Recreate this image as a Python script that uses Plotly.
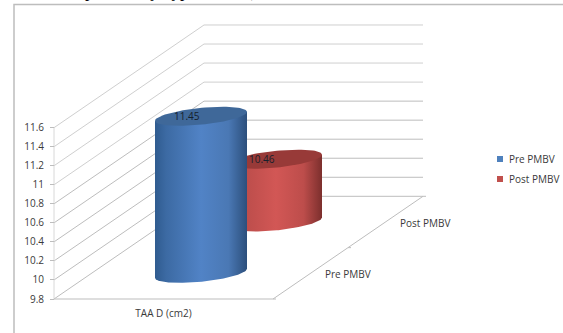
import numpy as np
import plotly.graph_objects as go

# Chart content
category = "TAA D (cm2)"
series_names = ["Pre PMBV", "Post PMBV"]
series_values = [11.45, 10.46]
value_ticks = [9.8, 10, 10.2, 10.4, 10.6, 10.8, 11, 11.2, 11.4, 11.6]
value_tick_labels = ["9.8", "10", "10.2", "10.4", "10.6", "10.8", "11", "11.2", "11.4", "11.6"]
caption_fragment = "pulmonary hypertension),"

WIDTH, HEIGHT = 563, 333

# Axis calibration: one category spans 219 px, one value unit spans about 95 px
ORIGIN_PX = 54
CATEGORY_PX = 219
BASE_VALUE = value_ticks[0]
BASE_PX = 299
VALUE_PX = 95.17

# Oblique depth: the full depth shifts right and upward
DEPTH_DX = 150 / CATEGORY_PX
DEPTH_DV = 102.7 / VALUE_PX

# Cylinder footprint as a tilted ellipse
RADIUS_X = 46 / CATEGORY_PX
TILT_V = 4.5 / VALUE_PX
MINOR_V = 8.4 / VALUE_PX

TEXT = "#3a3a3a"
GRID = "#cfcfcf"
FONT = "Open Sans"

BLUE_SCALE = [[0, "#2f5b8f"], [0.12, "#3c6aa3"], [0.5, "#5183c6"], [0.8, "#4a78b4"], [1, "#2c4f7c"]]
RED_SCALE = [[0, "#a54240"], [0.12, "#b94c4a"], [0.5, "#d25755"], [0.8, "#bd4d4b"], [1, "#7c2f2d"]]
TOP_COLORS = ["#3f6899", "#983a38"]
KEY_COLORS = ["#4f81bd", "#c0504d"]


def project(x, depth, value):
    """Map category position, depth fraction and value onto the oblique plane."""
    return x + depth * DEPTH_DX, value + depth * DEPTH_DV


def ellipse(cx, cv, start, stop, n=90):
    t = np.linspace(start, stop, n)
    return cx + RADIUS_X * np.cos(t), cv + TILT_V * np.cos(t) + MINOR_V * np.sin(t)


fig = go.Figure()


def add_line(xs, vs, color=GRID, width=1):
    fig.add_trace(go.Scatter(x=xs, y=vs, mode="lines", line=dict(color=color, width=width),
                             hoverinfo="skip", showlegend=False))


# Side wall and back wall gridlines
for tick in value_ticks:
    x0, v0 = project(0, 0, tick)
    x1, v1 = project(0, 1, tick)
    x2, v2 = project(1, 1, tick)
    add_line([x0, x1, x2], [v0, v1, v2], color=GRID if tick > 10.9 else "#bdbdbd")

# Left wall edge, floor front edge and floor side edge with its category ticks
top = value_ticks[-1]
add_line([0, 0], [BASE_VALUE, top], color="#d8d8d8")
fx, fv = project(1, 1, BASE_VALUE)
add_line([0, 1, fx], [BASE_VALUE, BASE_VALUE, fv], color="#bdbdbd")
for depth in (0, 0.5, 1):
    tx, tv = project(1, depth, BASE_VALUE)
    add_line([tx, tx + 3 / CATEGORY_PX], [tv, tv], color="#bdbdbd")


def add_cylinder(value, depth, scale, top_color):
    cx, base = project(0.5, depth, BASE_VALUE)
    lift = value - BASE_VALUE
    # Body: front half of the base ellipse closed along the top rim
    ex, ev = ellipse(cx, base, np.pi, 2 * np.pi)
    bx = np.concatenate([ex, [cx + RADIUS_X, cx - RADIUS_X]])
    bv = np.concatenate([ev, [base + lift + TILT_V, base + lift - TILT_V]])
    fig.add_trace(go.Scatter(x=bx, y=bv, mode="lines", fill="toself", line=dict(width=0),
                             fillgradient=dict(type="horizontal", colorscale=scale),
                             hoverinfo="skip", showlegend=False))
    # Top face with the value written on it
    tx, tv = ellipse(cx, base + lift, 0, 2 * np.pi)
    fig.add_trace(go.Scatter(x=tx, y=tv, mode="lines", fill="toself", fillcolor=top_color,
                             line=dict(width=0), hoverinfo="skip", showlegend=False))
    fig.add_annotation(x=cx - 14 / CATEGORY_PX, y=base + lift, text=f"{value:.2f}", showarrow=False,
                       font=dict(family=FONT, size=10, color="#16202c"))


# Rear cylinder goes first so the front one overlaps it
add_cylinder(series_values[1], 0.75, RED_SCALE, TOP_COLORS[1])
add_cylinder(series_values[0], 0.25, BLUE_SCALE, TOP_COLORS[0])

# Depth axis category labels
for name, depth in zip(series_names, (0.25, 0.75)):
    lx, lv = project(1, depth, BASE_VALUE)
    fig.add_annotation(x=lx, y=lv, text=name, showarrow=False, xanchor="left", yanchor="middle",
                       xshift=12.5, yshift=-1, font=dict(family=FONT, size=10, color=TEXT))

# Legend keys and labels on the right
legend_shapes = []
for name, color, row in zip(series_names, KEY_COLORS, (159, 179)):
    legend_shapes.append(dict(type="rect", xref="paper", yref="paper",
                              x0=497 / WIDTH, x1=503 / WIDTH,
                              y0=1 - (row + 3) / HEIGHT, y1=1 - (row - 3) / HEIGHT,
                              fillcolor=color, line=dict(width=0)))
    fig.add_annotation(xref="paper", yref="paper", x=507 / WIDTH, y=1 - row / HEIGHT,
                       xanchor="left", yanchor="middle", text=name, showarrow=False,
                       font=dict(family=FONT, size=10, color=TEXT))

# Caption line running off the top edge, only its descenders stay in view
fig.add_annotation(xref="paper", yref="paper", x=263 / WIDTH, y=1, yanchor="bottom", xanchor="right",
                   yshift=-3.5, text=caption_fragment, showarrow=False,
                   font=dict(family="Liberation Serif", size=17, color="black"))

frame = dict(type="path", xref="paper", yref="paper", layer="below",
             path=f"M {14/WIDTH},0 L {14/WIDTH},{1-4.5/HEIGHT} L 1,{1-4.5/HEIGHT}",
             line=dict(color="#bdbdbd", width=1.5))

fig.update_layout(
    width=WIDTH, height=HEIGHT,
    margin=dict(l=0, r=0, t=0, b=0, autoexpand=False),
    showlegend=False,
    paper_bgcolor="white", plot_bgcolor="white",
    font=dict(family=FONT, color=TEXT, size=10),
    xaxis=dict(range=[-ORIGIN_PX / CATEGORY_PX, (WIDTH - ORIGIN_PX) / CATEGORY_PX],
               domain=[0, 1], anchor="free", position=(HEIGHT - BASE_PX) / HEIGHT,
               tickvals=[0.5], ticktext=[category], ticks="outside", ticklen=5, tickcolor="rgba(0,0,0,0)",
               showgrid=False, zeroline=False, showline=False, tickfont=dict(size=10, color=TEXT)),
    yaxis=dict(range=[BASE_VALUE - (HEIGHT - BASE_PX) / VALUE_PX, BASE_VALUE + BASE_PX / VALUE_PX],
               domain=[0, 1], anchor="free", position=ORIGIN_PX / WIDTH,
               tickvals=value_ticks, ticktext=value_tick_labels, ticks="outside", ticklen=4, tickcolor="#bdbdbd",
               ticklabelstandoff=4,
               showgrid=False, zeroline=False, showline=False, tickfont=dict(size=10, color=TEXT)),
    shapes=[frame] + legend_shapes,
)

fig.write_html("out.html")
